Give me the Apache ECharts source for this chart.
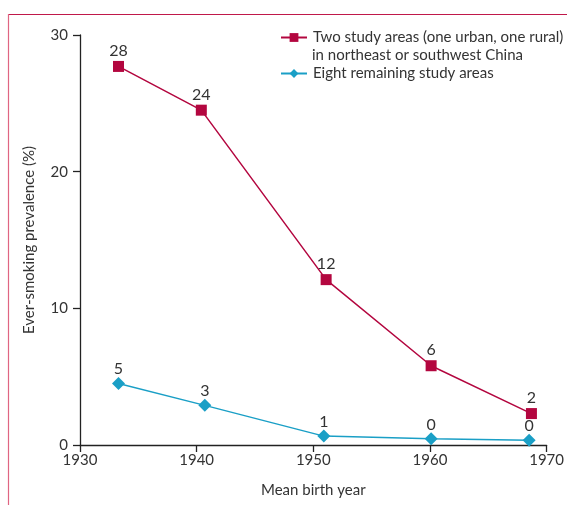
<!DOCTYPE html>
<html><head><meta charset="utf-8">
<script src="https://cdn.jsdelivr.net/npm/echarts@6/dist/echarts.min.js"></script>
<style>html,body{margin:0;padding:0;background:#fff}#c{width:567px;height:505px}</style>
</head><body><div id="c"></div>
<script>
const birthYearRed = [1933.3, 1940.4, 1951.1, 1960.1, 1968.7];
const prevalenceRed = [27.7, 24.5, 12.1, 5.8, 2.3];
const labelsRed = ['28', '24', '12', '6', '2'];
const birthYearBlue = [1933.3, 1940.7, 1950.9, 1960.1, 1968.5];
const prevalenceBlue = [4.5, 2.9, 0.65, 0.45, 0.35];
const labelsBlue = ['5', '3', '1', '0', '0'];
const xTicks = [1930, 1940, 1950, 1960, 1970];
const yTicks = [0, 10, 20, 30];
const nameRed = 'Two study areas (one urban, one rural)';
const nameRed2 = 'in northeast or southwest China';
const nameBlue = 'Eight remaining study areas';

const RED = '#b3063f', BLUE = '#1a9fc6', TXT = '#333';
const FONT = 'Lato';
const chart = echarts.init(document.getElementById('c'));
function pts(xs, ys){ return xs.map((x,i)=>[x, ys[i]]); }
chart.setOption({
  animation: false,
  textStyle: {fontFamily: FONT},
  grid: {left: 80, right: 18, top: 35, bottom: 60},
  legend: {
    orient: 'vertical', left: 280, top: 30, itemGap: 21, padding: 0,
    itemWidth: 26, itemHeight: 11,
    textStyle: {fontSize: 15, color: TXT, fontFamily: FONT, padding: [0,0,0,1]},
    data: [nameRed, nameBlue]
  },
  xAxis: {
    type: 'value', min: 1930, max: 1970, interval: 10,
    name: 'Mean birth year', nameLocation: 'middle', nameGap: 38,
    nameTextStyle: {fontSize: 15, color: TXT},
    axisLine: {lineStyle: {color: '#222', width: 1.3}},
    axisTick: {show: true, length: 7, lineStyle: {color: '#222', width: 1.3}},
    axisLabel: {fontSize: 15, color: TXT, margin: 8, formatter: v => xTicks.includes(v) ? String(v) : ''},
    splitLine: {show: false}
  },
  yAxis: {
    type: 'value', min: 0, max: 30, interval: 10,
    name: 'Ever-smoking prevalence (%)', nameLocation: 'middle', nameGap: 43,
    nameTextStyle: {fontSize: 15, color: TXT},
    axisLine: {show: true, lineStyle: {color: '#222', width: 1.3}},
    axisTick: {show: true, length: 7, lineStyle: {color: '#222', width: 1.3}},
    axisLabel: {fontSize: 15, color: TXT, margin: 12, formatter: v => yTicks.includes(v) ? String(v) : ''},
    splitLine: {show: false}
  },
  series: [
    {
      name: nameRed, type: 'line', data: pts(birthYearRed, prevalenceRed),
      symbol: 'rect', symbolSize: 11,
      lineStyle: {color: RED, width: 1.5}, itemStyle: {color: RED},
      label: {show: true, position: 'top', distance: 2, fontSize: 16, color: TXT,
        formatter: p => labelsRed[p.dataIndex]}
    },
    {
      name: nameBlue, type: 'line', data: pts(birthYearBlue, prevalenceBlue),
      symbol: 'diamond', symbolSize: 13,
      lineStyle: {color: BLUE, width: 1.5}, itemStyle: {color: BLUE},
      label: {show: true, position: 'top', distance: 0, fontSize: 16, color: TXT,
        formatter: p => labelsBlue[p.dataIndex]}
    }
  ],
  graphic: [
    {type: 'line', shape: {x1: 8, y1: 14.5, x2: 567, y2: 14.5}, style: {stroke: '#c0184a', lineWidth: 1.2}},
    {type: 'line', shape: {x1: 8.5, y1: 14, x2: 8.5, y2: 505}, style: {stroke: '#e06582', lineWidth: 1.2}},
    {type: 'text', left: 312, top: 48, style: {text: nameRed2, fontSize: 15, fill: TXT, fontFamily: FONT}}
  ]
});
</script></body></html>
